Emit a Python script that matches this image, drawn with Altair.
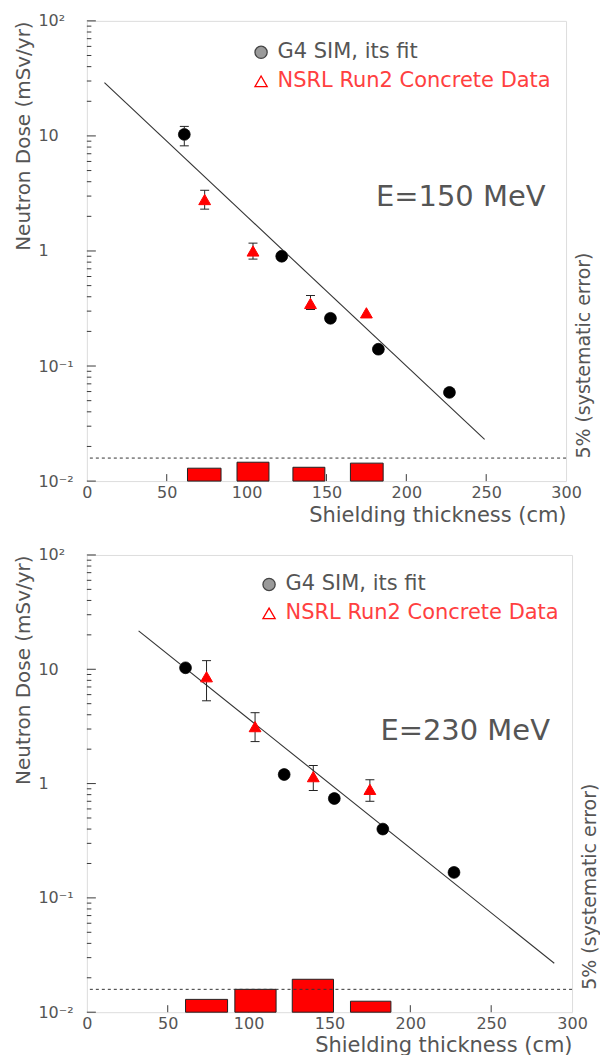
import altair as alt
import pandas as pd

# ---------------- data ----------------
SIM = "G4 SIM, its fit"
DAT = "NSRL Run2 Concrete Data"

# E = 150 MeV panel
sim150_x = [61, 122, 152.5, 182.5, 227]
sim150_y = [10.3, 0.90, 0.26, 0.14, 0.059]
sim150_lo = [8.2, None, None, None, None]
sim150_hi = [12.1, None, None, None, None]
dat150_x = [73.75, 104, 140, 175]
dat150_y = [2.8, 1.0, 0.35, 0.29]
dat150_lo = [2.31, 0.85, 0.31, None]
dat150_hi = [3.37, 1.17, 0.41, None]
fit150_x = [11, 249]
fit150_y = [29.0, 0.023]
sys150_x0 = [63, 94, 129, 165]
sys150_x1 = [84, 114, 149, 185.5]
sys150_pct = [2.8, 4.1, 3.0, 3.9]

# E = 230 MeV panel
sim230_x = [61, 122, 153, 183, 227]
sim230_y = [10.3, 1.2, 0.74, 0.40, 0.167]
sim230_lo = [None, None, None, None, None]
sim230_hi = [None, None, None, None, None]
dat230_x = [74, 104, 140, 175]
dat230_y = [8.6, 3.15, 1.15, 0.89]
dat230_lo = [5.3, 2.33, 0.87, 0.70]
dat230_hi = [11.9, 4.17, 1.44, 1.08]
fit230_x = [32, 289]
fit230_y = [21.7, 0.0268]
sys230_x0 = [61, 91.5, 127, 163]
sys230_x1 = [87, 117, 152.5, 188]
sys230_pct = [2.8, 5.0, 7.2, 2.4]

labels_text = ["E=150 MeV", "E=230 MeV"]
label_x = [181, 181.5]
label_y = [2.95, 2.9]

syst_level = [5]            # 5% systematic error reference line
x_tick_values = [0, 50, 100, 150, 200, 250, 300]
x_inner_ticks = [50, 100, 150, 200, 250]
y_major = [0.01, 0.1, 1, 10, 100]
y_minor = [m * 10.0 ** e for e in range(-2, 2) for m in range(2, 10)]

FONT = "DejaVu Sans"
GREY = "#555555"
FRAME = "#3a3a3a"


def panel(sim_x, sim_y, sim_lo, sim_hi, dat_x, dat_y, dat_lo, dat_hi,
          fit_x, fit_y, sx0, sx1, spct, text, tx, ty, w, h, lx, ly, xtpad):
    pts = pd.DataFrame({
        "x": sim_x + dat_x,
        "y": sim_y + dat_y,
        "series": [SIM] * len(sim_x) + [DAT] * len(dat_x),
    })
    sim_df = pd.DataFrame({"x": sim_x, "y": sim_y})
    dat_df = pd.DataFrame({"x": dat_x, "y": dat_y})
    err = pd.DataFrame({
        "x": sim_x + dat_x,
        "lo": sim_lo + dat_lo,
        "hi": sim_hi + dat_hi,
    }).dropna()
    fit = pd.DataFrame({"x": fit_x, "y": fit_y})
    sysdf = pd.DataFrame({"x0": sx0, "x1": sx1, "pct": spct})
    ann = pd.DataFrame({"x": [tx], "y": [ty], "t": [text]})
    ref = pd.DataFrame({"pct": syst_level})
    ymaj = pd.DataFrame({"v": y_major})
    ymin = pd.DataFrame({"v": y_minor})
    xt = pd.DataFrame({"v": x_inner_ticks})

    xscale = alt.Scale(domain=[0, 300], nice=False, zero=False)
    yscale = alt.Scale(type="log", domain=[0.01, 100], nice=False)
    sscale = alt.Scale(domain=[0, 100], nice=False)

    xaxis = alt.Axis(values=x_tick_values, ticks=False, domain=False, grid=False,
                     labelFont=FONT, labelFontSize=16, labelColor=GREY,
                     labelPadding=3, labelFlush=False, labelOverlap=False,
                     title="Shielding thickness (cm)", titleFont=FONT,
                     titleFontSize=21, titleFontWeight="normal", titleColor=GREY,
                     titleAnchor="end", titlePadding=xtpad)
    yaxis = alt.Axis(values=y_major, ticks=False, domain=False, grid=False,
                     labelExpr="datum.value >= 99 ? '10\u00b2' : datum.value >= 9 ? '10' : "
                               "datum.value >= 0.9 ? '1' : datum.value >= 0.09 ? '10\u207b\u00b9' : '10\u207b\u00b2'",
                     labelFont=FONT, labelFontSize=16, labelColor=GREY,
                     labelAlign="left", labelPadding=49, labelOverlap=False,
                     title="Neutron Dose (mSv/yr)", titleFont=FONT,
                     titleFontSize=20, titleFontWeight="normal", titleColor=GREY,
                     titleAnchor="end", titlePadding=4)
    raxis = alt.Axis(orient="right", labels=False, ticks=False, domain=False, grid=False,
                     title="5% (systematic error)", titleFont=FONT, titleFontSize=19,
                     titleFontWeight="normal", titleColor=GREY, titleAngle=270,
                     titleAlign="left", titleBaseline="middle",
                     titleX=17, titleY=h - 23)

    sig = f"datum.value === '{SIM}'"
    legend = alt.Legend(
        title=None, orient="none", legendX=lx, legendY=ly, padding=0,
        labelFont=FONT, labelFontSize=21, labelOffset=6, labelLimit=500,
        labelColor=alt.ExprRef(f"{sig} ? '{GREY}' : '#ff4040'"),
        symbolSize=150, symbolStrokeWidth=1.3, rowPadding=7,
    )

    X = lambda f: alt.X(f, scale=xscale, axis=xaxis)
    Y = lambda f: alt.Y(f, scale=yscale, axis=yaxis)

    ytick_major = alt.Chart(ymaj).mark_rule(color=FRAME, strokeWidth=1).encode(
        y=Y("v:Q"), x=alt.value(0), x2=alt.value(9))
    ytick_minor = alt.Chart(ymin).mark_rule(color=FRAME, strokeWidth=1).encode(
        y=Y("v:Q"), x=alt.value(0), x2=alt.value(4.5))
    xticks = alt.Chart(xt).mark_rule(color=FRAME, strokeWidth=1).encode(
        x=X("v:Q"), y=alt.value(h), y2=alt.value(h - 7))
    fitline = alt.Chart(fit).mark_line(color="#333333", strokeWidth=1.1).encode(
        x=X("x:Q"), y=Y("y:Q"))
    erule = alt.Chart(err).mark_rule(color="#222222", strokeWidth=1).encode(
        x=X("x:Q"), y=Y("lo:Q"), y2="hi:Q")
    ecap_lo = alt.Chart(err).mark_tick(orient="horizontal", size=9, thickness=1,
                                        color="#222222", opacity=1).encode(
        x=X("x:Q"), y=Y("lo:Q"))
    ecap_hi = alt.Chart(err).mark_tick(orient="horizontal", size=9, thickness=1,
                                        color="#222222", opacity=1).encode(
        x=X("x:Q"), y=Y("hi:Q"))
    # legend-bearing layer (hidden under the solid markers)
    legend_pts = alt.Chart(pts).mark_point(opacity=1, size=140, strokeWidth=1).encode(
        x=X("x:Q"), y=Y("y:Q"),
        fill=alt.Fill("series:N", scale=alt.Scale(domain=[SIM, DAT], range=["#9a9a9a", "#ffffff"]),
                      legend=legend),
        stroke=alt.Stroke("series:N", scale=alt.Scale(domain=[SIM, DAT], range=["#444444", "#ff0000"]),
                          legend=legend),
        shape=alt.Shape("series:N", scale=alt.Scale(domain=[SIM, DAT], range=["circle", "triangle-up"]),
                        legend=legend),
    )
    sim_pts = alt.Chart(sim_df).mark_point(filled=True, opacity=1, size=140, shape="circle",
                                           color="#000000").encode(x=X("x:Q"), y=Y("y:Q"))
    dat_pts = alt.Chart(dat_df).mark_point(filled=True, opacity=1, size=140, shape="triangle-up",
                                           color="#ff0000").encode(x=X("x:Q"), y=Y("y:Q"))
    label = alt.Chart(ann).mark_text(align="left", baseline="middle", font=FONT,
                                     fontSize=29, color=GREY).encode(
        x=X("x:Q"), y=Y("y:Q"), text="t:N")

    left = alt.layer(ytick_major, ytick_minor, xticks, fitline, erule, ecap_lo,
                     ecap_hi, legend_pts, sim_pts, dat_pts, label)

    bars = alt.Chart(sysdf).mark_rect(color="#ff0000", stroke="#222222", strokeWidth=1).encode(
        x=X("x0:Q"), x2="x1:Q", y=alt.Y("pct:Q", scale=sscale, axis=raxis), y2=alt.datum(0))
    dashed = alt.Chart(ref).mark_rule(color="#333333", strokeWidth=1, strokeDash=[3, 3]).encode(
        y=alt.Y("pct:Q", scale=sscale, axis=raxis))
    right = alt.layer(bars, dashed)

    return alt.layer(left, right).resolve_scale(y="independent").properties(width=w, height=h)


top = panel(sim150_x, sim150_y, sim150_lo, sim150_hi, dat150_x, dat150_y, dat150_lo, dat150_hi,
            fit150_x, fit150_y, sys150_x0, sys150_x1, sys150_pct,
            labels_text[0], label_x[0], label_y[0], 480, 461, 164, 21, 4)
bottom = panel(sim230_x, sim230_y, sim230_lo, sim230_hi, dat230_x, dat230_y, dat230_lo, dat230_hi,
               fit230_x, fit230_y, sys230_x0, sys230_x1, sys230_pct,
               labels_text[1], label_x[1], label_y[1], 486, 458, 172, 19, 3)

chart = alt.vconcat(top, bottom, spacing=20).resolve_scale(
    fill="independent", stroke="independent", shape="independent"
).configure_view(stroke=FRAME, strokeWidth=1).configure(
    font=FONT, padding={"left": 5, "top": 3, "right": 0, "bottom": 0}
)

chart.save("out.html", embed_options={"renderer": "svg", "actions": False})
